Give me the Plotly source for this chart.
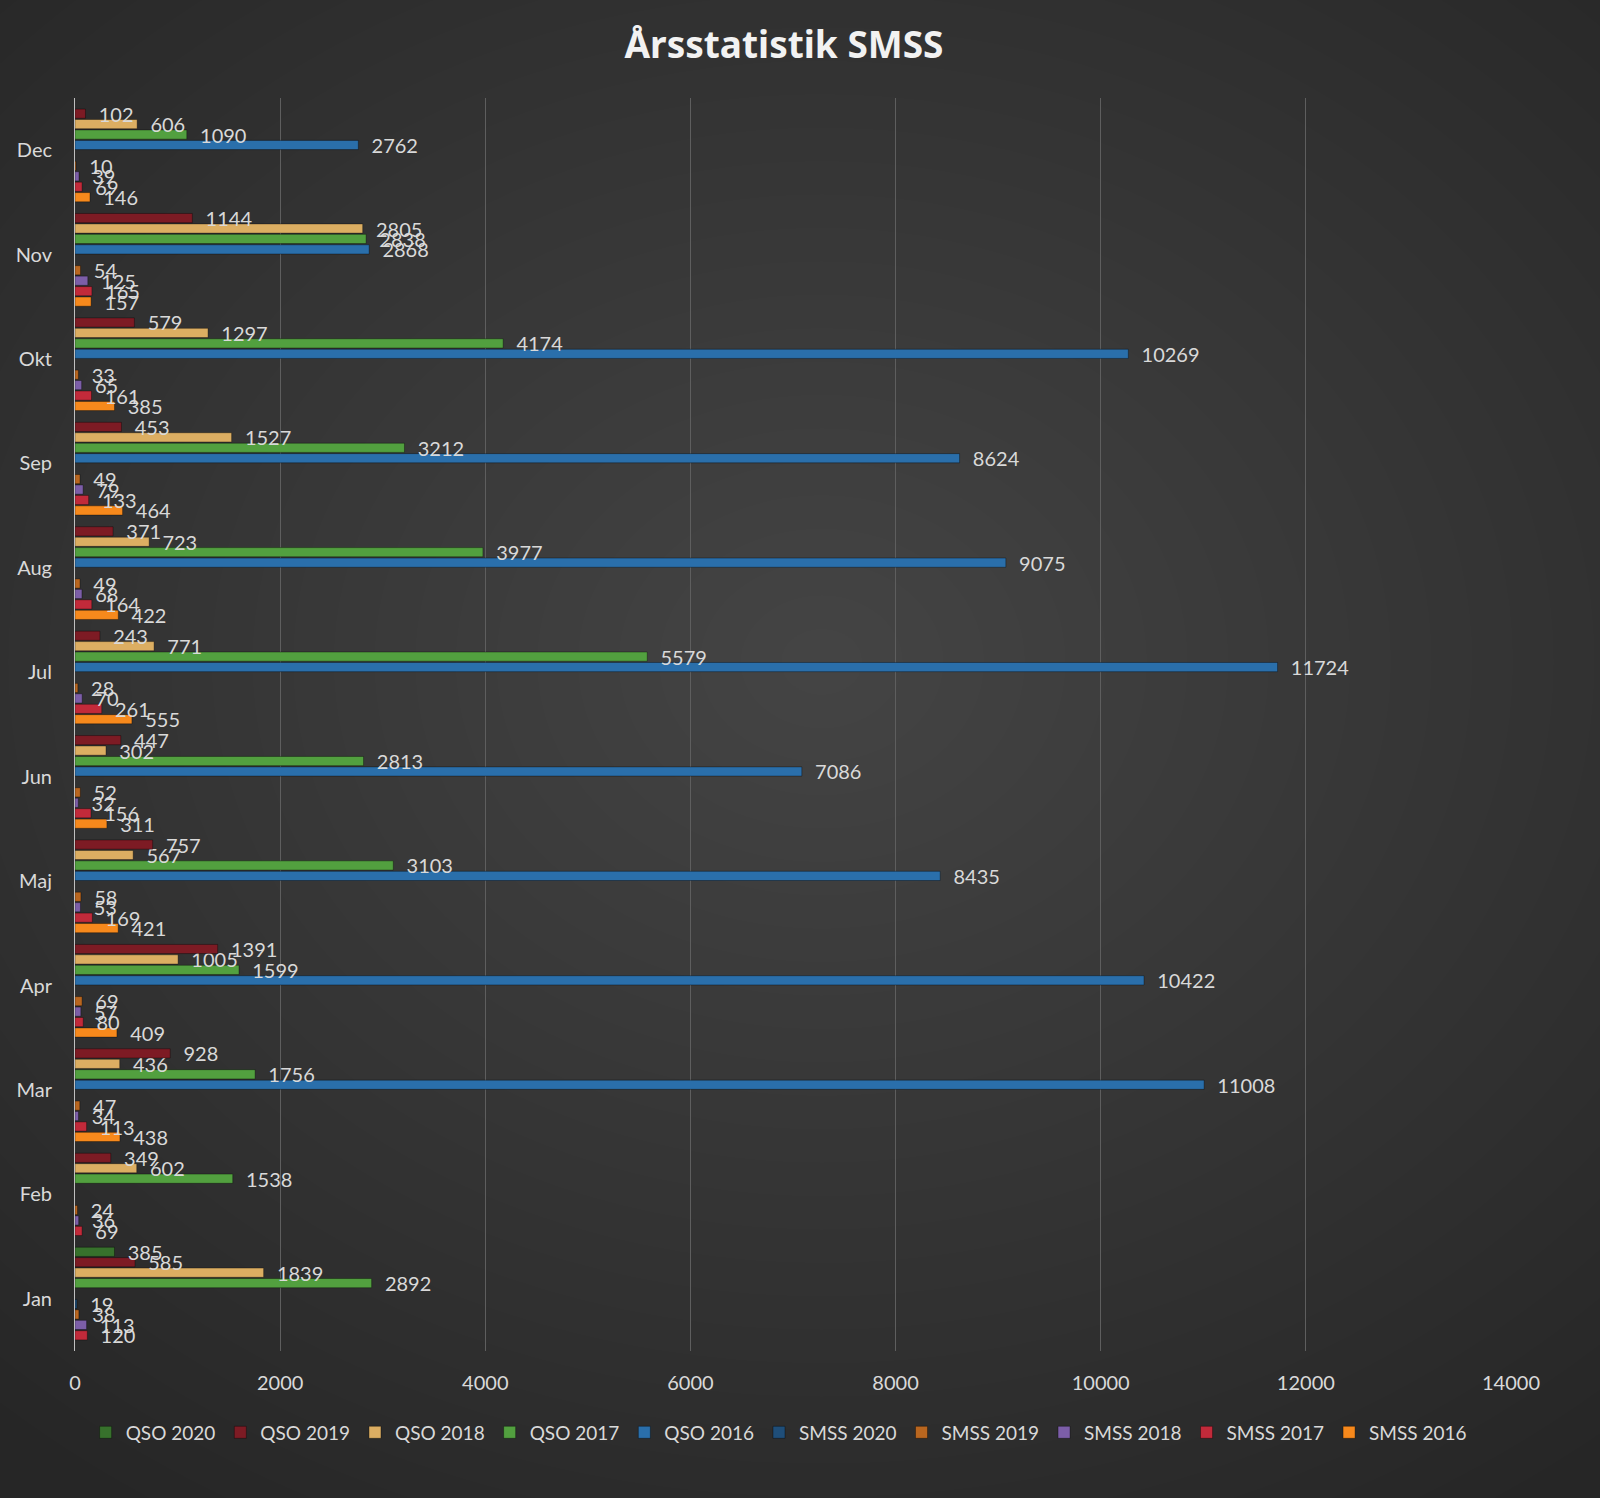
import plotly.graph_objects as go

# Data, Jan..Dec
months = ["Jan", "Feb", "Mar", "Apr", "Maj", "Jun", "Jul", "Aug", "Sep", "Okt", "Nov", "Dec"]

qso_2020 = [385, None, None, None, None, None, None, None, None, None, None, None]
qso_2019 = [585, 349, 928, 1391, 757, 447, 243, 371, 453, 579, 1144, 102]
qso_2018 = [1839, 602, 436, 1005, 567, 302, 771, 723, 1527, 1297, 2805, 606]
qso_2017 = [2892, 1538, 1756, 1599, 3103, 2813, 5579, 3977, 3212, 4174, 2838, 1090]
qso_2016 = [None, None, 11008, 10422, 8435, 7086, 11724, 9075, 8624, 10269, 2868, 2762]
smss_2020 = [19, None, None, None, None, None, None, None, None, None, None, None]
smss_2019 = [38, 24, 47, 69, 58, 52, 28, 49, 49, 33, 54, 10]
smss_2018 = [113, 36, 34, 57, 53, 32, 70, 68, 79, 65, 125, 39]
smss_2017 = [120, 69, 113, 80, 169, 156, 261, 164, 133, 161, 165, 69]
smss_2016 = [None, None, 438, 409, 421, 311, 555, 422, 464, 385, 157, 146]

series = [
    ("QSO 2020", qso_2020, "#37712c"),
    ("QSO 2019", qso_2019, "#7d1b24"),
    ("QSO 2018", qso_2018, "#dcae62"),
    ("QSO 2017", qso_2017, "#52a03f"),
    ("QSO 2016", qso_2016, "#2a6fab"),
    ("SMSS 2020", smss_2020, "#1f4e79"),
    ("SMSS 2019", smss_2019, "#b9661f"),
    ("SMSS 2018", smss_2018, "#7c5ea8"),
    ("SMSS 2017", smss_2017, "#c22a3a"),
    ("SMSS 2016", smss_2016, "#f7891c"),
]

FONT = "Lato"
TXT = "#d9d9d9"

fig = go.Figure()
# plotly stacks grouped horizontal bars bottom-up, so add in reverse
for name, vals, col in reversed(series):
    fig.add_trace(go.Bar(
        y=months, x=vals, name=name, orientation="h",
        marker=dict(color=col, line=dict(color="rgba(0,0,0,0.35)", width=1)),
        texttemplate="\u00a0\u00a0%{x:.0f}", textposition="outside",
        constraintext="none", cliponaxis=False,
        textfont=dict(family=FONT, size=20, color=TXT),
        hovertemplate=name + " %{y}: %{x}<extra></extra>",
    ))

# soft radial background like the Excel theme
shapes = []
n = 30
for i in range(n):
    f = 1 - i / n
    rx = 0.85 * f
    ry = 0.80 * f
    shapes.append(dict(
        type="circle", xref="paper", yref="paper", layer="below",
        x0=0.52 - rx, x1=0.52 + rx, y0=0.55 - ry, y1=0.55 + ry,
        fillcolor="rgba(255,255,255,0.0095)", line=dict(width=0),
    ))

fig.update_layout(
    width=1600, height=1498,
    paper_bgcolor="#262626", plot_bgcolor="rgba(0,0,0,0)",
    margin=dict(l=75, r=89, t=98, b=147),
    barmode="group", bargap=0.0, bargroupgap=0.12,
    shapes=shapes,
    title=dict(text="<b>Årsstatistik SMSS</b>", x=0.49, xanchor="center",
               y=1 - 45 / 1498, yanchor="middle",
               font=dict(family="Noto Sans", size=37, color="#f2f2f2")),
    font=dict(family=FONT, color=TXT),
    showlegend=True,
    legend=dict(orientation="h", traceorder="reversed",
                x=0.49, xanchor="center", y=-0.065, yanchor="middle",
                font=dict(family=FONT, size=19, color=TXT),
                itemwidth=30, bgcolor="rgba(0,0,0,0)"),
)
fig.update_xaxes(range=[0, 14000], dtick=2000, tick0=0, tickformat="d",
                 showgrid=True, gridcolor="#5e5e5e", gridwidth=1,
                 zeroline=False, showline=False,
                 ticks="outside", ticklen=14, tickcolor="rgba(0,0,0,0)",
                 tickfont=dict(family=FONT, size=20, color=TXT))
fig.update_yaxes(type="category", categoryorder="array", categoryarray=months,
                 showgrid=False, zeroline=False,
                 showline=True, linecolor="#bfbfbf", linewidth=1,
                 ticks="outside", ticklen=18, tickcolor="rgba(0,0,0,0)",
                 tickfont=dict(family=FONT, size=20, color=TXT))

fig.write_html("out.html", config={"displayModeBar": False},
               post_script="document.body.style.margin='0';")
